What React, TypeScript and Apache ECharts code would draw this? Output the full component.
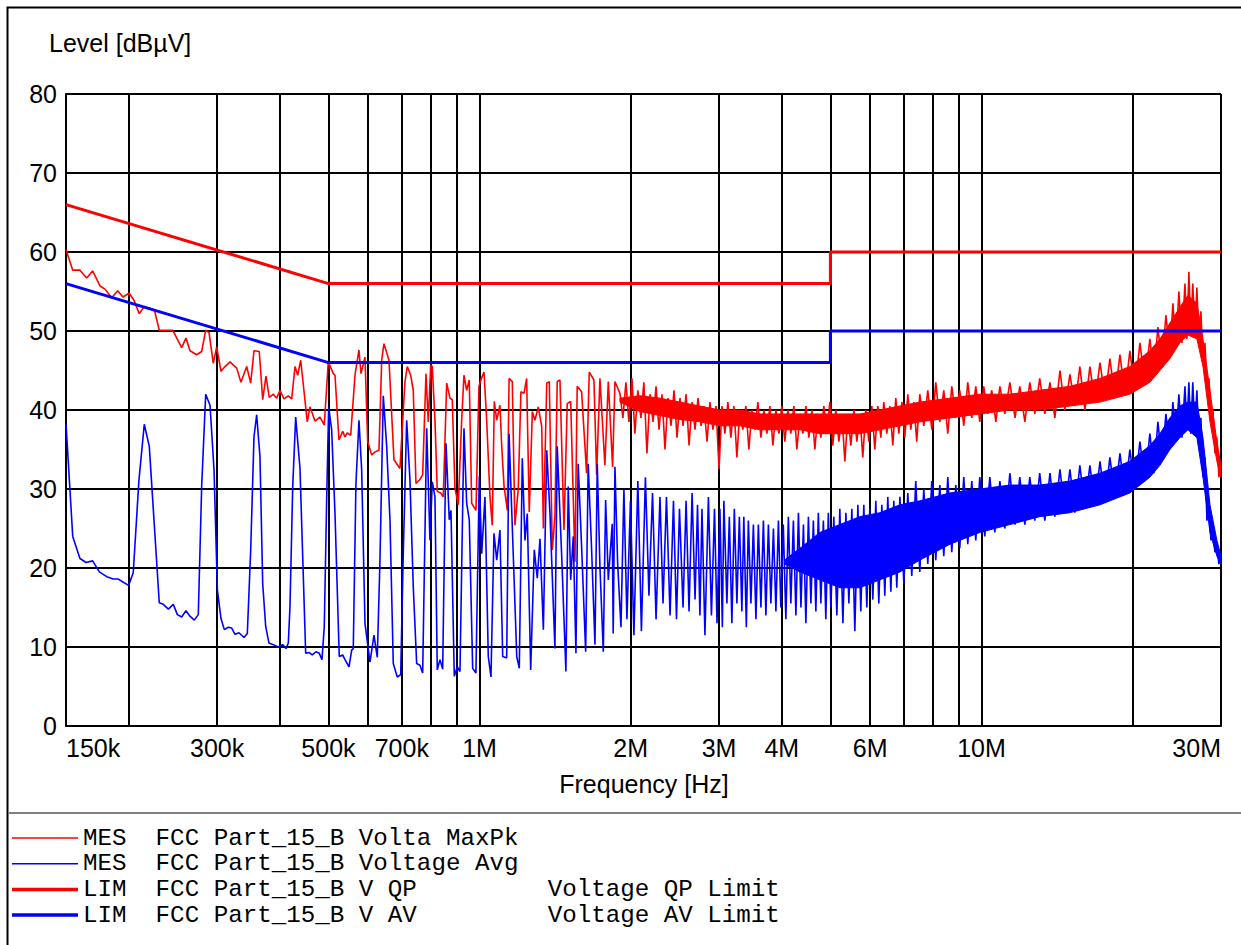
import React, { useEffect, useRef } from 'react';
import * as echarts from 'echarts';

// ---------- axis ticks ----------
const xTickValues = [0.15, 0.3, 0.5, 0.7, 1, 2, 3, 4, 6, 10, 30]; // MHz
const xTickLabels = ['150k', '300k', '500k', '700k', '1M', '2M', '3M', '4M', '6M', '10M', '30M'];
const xGridValues = [0.2, 0.3, 0.4, 0.5, 0.6, 0.7, 0.8, 0.9, 1, 2, 3, 4, 5, 6, 7, 8, 9, 10, 20, 30];

// ---------- limit lines [MHz, dBµV] ----------
const qpLimit: [number, number][] = [[0.15, 66], [0.5, 56], [5, 56], [5, 60], [30, 60]];
const avLimit: [number, number][] = [[0.15, 56], [0.5, 46], [5, 46], [5, 50], [30, 50]];

// ---------- MES MaxPk trace [MHz, dBµV] ----------
const maxPkTrace: [number, number][] = [
  [0.150, 60.3], [0.1547, 57.7], [0.1599, 57.7], [0.1649, 56.7], [0.1695, 57.6], [0.1753, 55.7], [0.1794, 55.3],
  [0.1850, 54.2], [0.1901, 55.1], [0.1948, 54.3], [0.2003, 54.8], [0.2049, 53.9], [0.2099, 52.2], [0.2148, 53.1],
  [0.2249, 52.7], [0.2301, 50.1], [0.2447, 50.1], [0.2550, 47.9], [0.2601, 49.1], [0.2649, 47.5], [0.2732, 47.0],
  [0.2795, 47.4], [0.2847, 50.1], [0.2891, 49.8], [0.2948, 45.9], [0.2994, 48.0], [0.3054, 44.9], [0.3111, 45.5],
  [0.3183, 46.1], [0.3282, 45.3], [0.3347, 43.5], [0.3436, 45.5], [0.3500, 43.4], [0.3553, 47.5], [0.3640, 47.4],
  [0.3698, 41.3], [0.3754, 44.3], [0.3811, 41.6], [0.3882, 42.0], [0.3943, 41.5], [0.4003, 42.5], [0.4077, 41.4],
  [0.4159, 41.8], [0.4224, 41.4], [0.4289, 45.5], [0.4342, 44.4], [0.4402, 46.3], [0.4537, 38.5], [0.4594, 40.4],
  [0.4700, 38.6], [0.4809, 39.1], [0.4905, 38.1], [0.4996, 46.1], [0.5112, 44.6], [0.5152, 44.4], [0.5247, 36.2],
  [0.5337, 37.3], [0.5394, 36.6], [0.5451, 37.1], [0.5537, 36.8], [0.5647, 44.4], [0.5751, 47.6], [0.5805, 44.6],
  [0.5912, 46.7], [0.5986, 36.0], [0.6096, 34.3], [0.6190, 34.7], [0.6304, 34.9], [0.6383, 46.3], [0.6450, 48.4],
  [0.6600, 46.3], [0.6753, 33.7], [0.6941, 32.6], [0.7102, 43.6], [0.7178, 45.5], [0.7291, 44.4], [0.7378, 42.5],
  [0.7470, 30.7], [0.7608, 31.2], [0.7703, 31.8], [0.7821, 44.6], [0.7904, 38.5], [0.7991, 45.7], [0.8050, 45.5],
  [0.8150, 38.7], [0.8237, 29.7], [0.8366, 29.5], [0.8466, 29.0], [0.8600, 43.4], [0.8731, 41.5], [0.8823, 41.3],
  [0.8933, 30.1], [0.9070, 28.0], [0.9212, 38.7], [0.9310, 44.4], [0.9426, 42.5], [0.9539, 43.8], [0.9645, 28.2],
  [0.9837, 27.3], [0.9973, 43.0], [1.0098, 44.1], [1.0205, 44.8], [1.0332, 38.7], [1.049, 29.0], [1.060, 25.4],
  [1.070, 41.1], [1.082, 38.7], [1.098, 40.6], [1.107, 35.4], [1.119, 30.3], [1.136, 27.3], [1.145, 44.0],
  [1.162, 43.6], [1.176, 25.4], [1.194, 29.9], [1.209, 42.3], [1.226, 42.1], [1.241, 44.0], [1.256, 27.1],
  [1.274, 39.8], [1.289, 38.7], [1.309, 40.4], [1.330, 37.9], [1.340, 25.0], [1.361, 43.4], [1.377, 43.6],
  [1.396, 22.3], [1.413, 26.5], [1.428, 43.6], [1.446, 43.8], [1.473, 24.8], [1.495, 40.8], [1.519, 41.1],
  [1.549, 20.8], [1.565, 43.0], [1.597, 42.3], [1.634, 32.0], [1.654, 44.8], [1.690, 43.8], [1.711, 31.8],
  [1.737, 44.0], [1.777, 33.0], [1.805, 43.6], [1.841, 32.8], [1.861, 43.6], [1.904, 42.1],
  [1.930, 39.0], [1.957, 43.5], [1.984, 38.5], [2.012, 44.0], [2.039, 37.0], [2.067, 42.5], [2.096, 39.0],
  [2.125, 43.5], [2.155, 34.5], [2.186, 42.0], [2.216, 38.5], [2.247, 43.0], [2.278, 37.5], [2.309, 42.0],
  [2.341, 35.0], [2.374, 41.5], [2.407, 38.0], [2.440, 42.5], [2.474, 36.5], [2.508, 41.5], [2.543, 38.0],
  [2.579, 42.0], [2.614, 35.5], [2.651, 41.0], [2.687, 37.5], [2.724, 41.5], [2.762, 38.0], [2.800, 40.5],
  [2.839, 36.0], [2.877, 41.0], [2.917, 37.5], [2.958, 40.5], [3.000, 32.5], [3.040, 40.5], [3.081, 37.0],
  [3.124, 41.0], [3.167, 36.5], [3.211, 40.5], [3.256, 34.0], [3.301, 40.0], [3.346, 37.5], [3.392, 40.5],
  [3.440, 35.0], [3.488, 40.0], [3.536, 37.5], [3.585, 41.0], [3.635, 36.5], [3.685, 40.0], [3.736, 37.0],
  [3.788, 40.5], [3.841, 35.5], [3.894, 40.0], [3.948, 37.0], [4.000, 40.5], [4.057, 36.0], [4.113, 40.0],
  [4.170, 37.0], [4.228, 40.5], [4.287, 35.0], [4.349, 39.5], [4.407, 37.0], [4.468, 40.5], [4.530, 36.5],
  [4.593, 40.0], [4.656, 35.0], [4.720, 39.5], [4.786, 36.5], [4.852, 40.5], [4.919, 37.0], [4.987, 41.0],
  [5.056, 35.5], [5.126, 40.0], [5.198, 36.0], [5.270, 39.5], [5.343, 33.5], [5.417, 39.5], [5.492, 35.5],
  [5.568, 40.0], [5.645, 36.0], [5.722, 39.5], [5.801, 34.0], [5.882, 40.0], [5.963, 36.0], [6.046, 40.5],
  [6.130, 35.0], [6.214, 40.5], [6.301, 36.5], [6.388, 41.0], [6.476, 37.0], [6.566, 40.5], [6.657, 35.5],
  [6.749, 41.5], [6.843, 37.0], [6.941, 41.0], [7.033, 36.5], [7.131, 42.0], [7.229, 37.5], [7.329, 41.0],
  [7.430, 36.0], [7.534, 42.0], [7.674, 38.0], [7.816, 42.5], [7.961, 37.5], [8.108, 43.5], [8.258, 38.5],
  [8.411, 42.5], [8.567, 37.0], [8.725, 43.0], [8.887, 39.0], [9.051, 42.5], [9.219, 38.0], [9.390, 43.5],
  [9.564, 39.0], [9.741, 43.0], [9.921, 38.5], [10.10, 43.0], [10.29, 39.5], [10.48, 42.5], [10.68, 38.5],
  [10.88, 43.0], [11.13, 39.5], [11.39, 43.5], [11.66, 39.0], [11.92, 43.0], [12.20, 38.5], [12.48, 43.5],
  [12.77, 39.5], [13.06, 44.0], [13.37, 39.5], [13.69, 43.5], [14.00, 39.0], [14.33, 45.0], [14.66, 40.0],
  [15.00, 44.5], [15.35, 40.5], [15.70, 45.5], [16.07, 40.0], [16.44, 45.5], [16.83, 41.0], [17.22, 46.0],
  [17.62, 41.5], [18.02, 46.5], [18.44, 41.5], [18.87, 47.0], [19.31, 42.0], [19.75, 47.5], [20.21, 42.5],
  [20.68, 48.5], [21.16, 43.5], [21.65, 49.0], [22.05, 44.5], [22.46, 50.5], [22.88, 45.5], [23.30, 52.0],
  [23.73, 47.0], [24.06, 53.5], [24.40, 48.0], [24.73, 55.0], [25.08, 48.5], [25.43, 56.0], [25.66, 49.0],
  [25.89, 57.5], [26.12, 50.0], [26.36, 56.0], [26.61, 49.5], [26.86, 55.5], [27.10, 48.5], [27.36, 52.5],
  [27.62, 46.0], [27.87, 48.5], [28.13, 42.5], [28.39, 44.0], [28.65, 38.5], [28.91, 40.0], [29.18, 34.5],
  [29.44, 36.5], [29.71, 31.5], [30.0, 33.0],
];

// ---------- MES Avg trace [MHz, dBµV] ----------
const avgTrace: [number, number][] = [
  [0.150, 38.3], [0.1547, 24.0], [0.1599, 21.2], [0.1645, 20.7], [0.1695, 20.9], [0.1748, 19.5], [0.1808, 18.9],
  [0.1863, 18.6], [0.1907, 18.6], [0.1951, 18.2], [0.1999, 17.8], [0.2042, 19.4], [0.2096, 31.1], [0.2148, 38.2],
  [0.2198, 35.4], [0.2301, 15.6], [0.2344, 15.4], [0.2399, 14.8], [0.2454, 15.4], [0.2500, 14.1], [0.2550, 13.8],
  [0.2601, 14.6], [0.2649, 13.9], [0.2702, 13.4], [0.2752, 14.1], [0.2795, 30.3], [0.2847, 42.0], [0.2904, 40.6],
  [0.2958, 32.4], [0.3004, 17.2], [0.3054, 13.6], [0.3101, 12.2], [0.3158, 12.5], [0.3208, 12.4], [0.3257, 11.6],
  [0.3317, 11.8], [0.3394, 11.2], [0.3446, 11.7], [0.3500, 22.3], [0.3553, 36.6], [0.3597, 39.4], [0.3652, 34.1],
  [0.3698, 18.0], [0.3749, 12.6], [0.3806, 10.5], [0.3882, 10.3], [0.3972, 10.0], [0.4053, 10.3], [0.4115, 9.8],
  [0.4159, 10.5], [0.4191, 15.1], [0.4244, 30.3], [0.4302, 39.1], [0.4388, 32.6], [0.4443, 21.4], [0.4504, 9.2],
  [0.4579, 9.3], [0.4642, 9.0], [0.4722, 9.4], [0.4794, 9.2], [0.4854, 8.4], [0.4905, 12.6], [0.4959, 28.6],
  [0.5005, 40.4], [0.5074, 37.5], [0.5152, 26.9], [0.5254, 8.8], [0.5337, 9.0], [0.5394, 8.4], [0.5494, 7.5],
  [0.5562, 9.6], [0.5603, 9.8], [0.5672, 30.7], [0.5751, 38.7], [0.5823, 32.4], [0.5912, 13.0], [0.6049, 8.1],
  [0.6161, 11.5], [0.6255, 8.7], [0.6333, 21.0], [0.6430, 41.8], [0.6531, 35.4], [0.6630, 26.1], [0.6731, 7.9],
  [0.6856, 6.2], [0.6964, 6.5], [0.7047, 21.8], [0.7158, 38.7], [0.7267, 31.1], [0.7378, 17.6], [0.7494, 7.9],
  [0.7608, 7.7], [0.7703, 6.7], [0.7846, 37.7], [0.7965, 23.5], [0.8050, 30.9], [0.8150, 29.0], [0.8237, 7.1],
  [0.8339, 8.4], [0.8443, 7.2], [0.8572, 35.8], [0.8703, 26.1], [0.8771, 27.3], [0.8905, 6.3], [0.9028, 7.5],
  [0.9141, 6.9], [0.9310, 37.7], [0.9426, 28.2], [0.9539, 26.1], [0.9689, 7.3], [0.9835, 6.7], [0.9987, 31.6],
  [1.0098, 21.8], [1.0251, 29.0], [1.0408, 8.8], [1.0538, 6.2], [1.0684, 24.4], [1.082, 21.0], [1.098, 24.8],
  [1.112, 8.8], [1.1325, 8.6], [1.145, 37.0], [1.167, 21.8], [1.186, 8.8], [1.200, 7.3], [1.2165, 33.9],
  [1.2316, 23.5], [1.2447, 26.9], [1.2643, 7.1], [1.2853, 22.3], [1.3032, 18.7], [1.3194, 23.7], [1.340, 12.2],
  [1.361, 34.9], [1.3813, 26.9], [1.413, 9.8], [1.428, 35.4], [1.457, 21.8], [1.486, 6.9], [1.502, 30.3],
  [1.519, 18.5], [1.537, 24.0], [1.556, 9.2], [1.572, 33.2], [1.597, 22.7], [1.627, 9.4], [1.646, 33.2],
  [1.672, 22.3], [1.698, 10.3], [1.716, 33.2], [1.737, 20.2], [1.764, 9.4], [1.783, 28.6], [1.805, 18.5],
  [1.838, 25.6], [1.846, 11.7], [1.861, 32.8], [1.884, 20.6],
  [1.913, 12.5], [1.939, 30.0], [1.966, 13.5], [1.998, 28.5], [2.030, 11.5], [2.067, 31.0], [2.101, 12.0],
  [2.140, 31.5], [2.175, 16.5], [2.211, 29.5], [2.247, 13.5], [2.288, 29.0], [2.320, 15.5], [2.357, 29.0],
  [2.396, 14.0], [2.434, 28.5], [2.468, 13.5], [2.502, 27.5], [2.543, 15.0], [2.579, 28.5], [2.614, 14.5],
  [2.651, 29.5], [2.687, 16.0], [2.718, 28.0], [2.748, 14.0], [2.774, 27.5], [2.812, 11.5], [2.857, 29.0],
  [2.897, 14.0], [2.938, 27.5], [2.972, 13.0], [3.012, 27.5], [3.046, 12.5], [3.067, 28.5], [3.110, 15.5],
  [3.145, 26.5], [3.182, 13.0], [3.218, 27.5], [3.256, 15.5], [3.293, 26.5], [3.331, 14.5], [3.361, 26.5],
  [3.400, 12.5], [3.432, 26.0], [3.472, 15.5], [3.512, 25.5], [3.553, 13.5], [3.593, 25.5], [3.635, 15.0],
  [3.677, 26.0], [3.719, 14.0], [3.762, 25.5], [3.805, 15.5], [3.850, 25.0], [3.894, 14.5], [3.939, 26.0],
  [3.983, 15.0], [4.028, 25.5], [4.076, 13.5], [4.123, 26.5], [4.170, 15.5], [4.219, 26.0], [4.268, 14.0],
  [4.318, 27.0], [4.368, 15.0], [4.418, 25.5], [4.468, 13.0], [4.520, 26.5], [4.572, 15.5], [4.624, 26.0],
  [4.677, 14.5], [4.731, 27.0], [4.786, 15.5], [4.841, 26.0], [4.896, 13.5], [4.953, 27.0], [5.010, 15.0],
  [5.079, 26.5], [5.150, 14.0], [5.221, 27.5], [5.295, 13.0], [5.368, 27.0], [5.442, 15.5], [5.517, 27.5],
  [5.593, 12.0], [5.671, 28.0], [5.748, 14.5], [5.828, 28.0], [5.909, 15.0], [5.990, 27.5], [6.074, 16.0],
  [6.158, 28.5], [6.243, 15.5], [6.330, 28.0], [6.417, 16.5], [6.506, 29.0], [6.597, 17.0], [6.688, 28.5],
  [6.780, 17.5], [6.878, 29.0], [7.003, 18.0], [7.131, 29.5], [7.262, 19.0], [7.396, 31.0], [7.534, 19.5],
  [7.674, 30.0], [7.816, 20.5], [7.961, 31.0], [8.108, 21.0], [8.258, 30.5], [8.411, 21.5], [8.567, 31.5],
  [8.725, 22.0], [8.887, 30.5], [9.051, 22.5], [9.219, 31.5], [9.390, 23.0], [9.564, 31.0], [9.741, 23.5],
  [9.921, 31.5], [10.15, 24.0], [10.39, 31.5], [10.63, 24.5], [10.88, 31.0], [11.13, 25.0], [11.39, 32.0],
  [11.66, 25.5], [11.92, 31.5], [12.20, 25.5], [12.48, 31.5], [12.77, 26.0], [13.06, 32.0], [13.37, 26.0],
  [13.69, 32.0], [14.00, 26.5], [14.33, 32.5], [14.66, 27.0], [15.00, 32.5], [15.35, 27.0], [15.70, 33.0],
  [16.07, 27.5], [16.44, 33.0], [16.83, 28.0], [17.22, 33.5], [17.62, 28.5], [18.02, 34.0], [18.44, 29.0],
  [18.87, 34.5], [19.31, 29.5], [19.75, 35.0], [20.21, 30.0], [20.68, 36.0], [21.16, 31.0], [21.65, 37.0],
  [22.05, 32.0], [22.46, 38.5], [22.88, 33.5], [23.30, 39.5], [23.73, 35.0], [24.06, 41.0], [24.40, 36.0],
  [24.73, 42.0], [25.08, 36.5], [25.43, 43.0], [25.66, 37.5], [25.89, 43.5], [26.12, 37.0], [26.36, 43.5],
  [26.61, 37.0], [26.86, 42.5], [27.10, 35.5], [27.36, 39.0], [27.62, 31.5], [27.87, 34.0], [28.13, 26.0],
  [28.39, 27.5], [28.65, 23.5], [28.91, 24.5], [29.18, 22.0], [29.44, 23.0], [29.71, 20.5], [30.0, 21.5],
];

// ---------- dense-region envelopes (upper / lower edge of the sweep) ----------
const maxPkBandFreq = [1.904, 2.087, 2.288, 2.508, 2.748, 3.012, 3.301, 3.618, 3.965, 4.349, 4.764, 5.221, 5.722,
  6.272, 6.878, 7.534, 8.65, 9.921, 11.39, 13.06, 15.0, 17.22, 19.75, 21.65, 22.67, 23.73, 24.84, 25.77, 26.86,
  27.62, 28.52, 29.44, 30];
const maxPkBandHi = [41.5, 41.8, 41.5, 41, 40.5, 40, 40, 39.5, 39.5, 39.5, 39.5, 39.5, 39.5, 40, 40.5, 41, 41.5, 42,
  42, 42.5, 43, 44, 45.5, 47.5, 49, 51, 53, 54.5, 53.5, 49, 42.5, 36, 33];
const maxPkBandLo = [41, 39.8, 39.3, 38.8, 38.5, 38, 38, 37.5, 37.5, 37.5, 37, 37, 37, 37.5, 38, 38.5, 39, 39.5, 40,
  40, 40.5, 41, 42, 43.5, 45, 46.5, 48.5, 49.5, 49, 45.5, 38.5, 33.5, 31.5];

const avgBandFreq = [4.05, 4.349, 4.764, 5.221, 5.722, 6.272, 6.878, 7.534, 8.65, 9.921, 11.39, 13.06,
  15.0, 17.22, 19.75, 21.65, 22.67, 23.73, 24.84, 25.77, 26.86, 27.62, 28.52, 29.44, 30];
const avgBandHi = [21, 22.5, 24.5, 25.5, 26.5, 27, 28, 28.5, 29.5, 30, 30.5, 30.5, 31, 32, 33.5, 35.5, 37, 39,
  40.5, 41, 41, 36.5, 28, 23.5, 21.5];
const avgBandLo = [20.5, 19.5, 18.5, 17.5, 17.5, 18.5, 19.5, 21, 23, 24.5, 25.5, 26.5, 27, 28, 29.5, 31.5, 33, 35,
  36.5, 37.5, 36.5, 31.5, 24.5, 21.5, 20.5];

// ---------- legend ----------
const legendRows = [
  { color: '#ff0000', width: 1.5, a: 'MES', b: 'FCC Part_15_B Volta MaxPk', c: '' },
  { color: '#0000ff', width: 1.5, a: 'MES', b: 'FCC Part_15_B Voltage Avg', c: '' },
  { color: '#ff0000', width: 3.5, a: 'LIM', b: 'FCC Part_15_B V QP', c: 'Voltage QP Limit' },
  { color: '#0000ff', width: 3.5, a: 'LIM', b: 'FCC Part_15_B V AV', c: 'Voltage AV Limit' },
];

const RED = '#ff0000';
const BLUE = '#0000ff';
const SANS = 'Liberation Sans, Arial, sans-serif';
const MONO = 'Liberation Mono, Courier New, monospace';

function bandSeries(freq: number[], hi: number[], lo: number[], color: string) {
  return {
    type: 'custom',
    coordinateSystem: 'cartesian2d',
    silent: true,
    data: freq.map((f, i) => [f, lo[i], hi[i]]),
    encode: { x: 0, y: [1, 2] },
    renderItem: (params: any, api: any) => {
      if (params.dataIndex !== 0) return null;
      const top = freq.map((f, i) => api.coord([f, hi[i]]));
      const bottom = freq.map((f, i) => api.coord([f, lo[i]])).reverse();
      return {
        type: 'polygon',
        shape: { points: top.concat(bottom) },
        style: { fill: color, stroke: color, lineWidth: 1 },
      };
    },
  };
}

function buildGraphic() {
  const g: any[] = [
    { type: 'rect', shape: { x: 7.5, y: 7.5, width: 1260, height: 960 }, style: { fill: 'none', stroke: '#000', lineWidth: 2 } },
    { type: 'line', shape: { x1: 8, y1: 813, x2: 1241, y2: 813 }, style: { stroke: '#808080', lineWidth: 2 } },
    { type: 'text', x: 49, y: 43, style: { text: 'Level [dBµV]', fontSize: 25, fontFamily: SANS, fill: '#000', align: 'left', verticalAlign: 'middle' } },
    { type: 'text', x: 644, y: 784, style: { text: 'Frequency [Hz]', fontSize: 25, fontFamily: SANS, fill: '#000', align: 'center', verticalAlign: 'middle' } },
  ];
  const charW = 14.52;
  legendRows.forEach((r, i) => {
    const y = 838 + i * 25.7;
    g.push({ type: 'line', shape: { x1: 12, y1: y, x2: 78, y2: y }, style: { stroke: r.color, lineWidth: r.width } });
    g.push({ type: 'text', x: 83, y, style: { text: r.a, fontSize: 24.2, fontFamily: MONO, fill: '#000', align: 'left', verticalAlign: 'middle' } });
    g.push({ type: 'text', x: 83 + 5 * charW, y, style: { text: r.b, fontSize: 24.2, fontFamily: MONO, fill: '#000', align: 'left', verticalAlign: 'middle' } });
    if (r.c) {
      g.push({ type: 'text', x: 83 + 32 * charW, y, style: { text: r.c, fontSize: 24.2, fontFamily: MONO, fill: '#000', align: 'left', verticalAlign: 'middle' } });
    }
  });
  return g;
}

export default function App() {
  const ref = useRef<HTMLDivElement>(null);
  useEffect(() => {
    if (!ref.current) return;
    const chart = echarts.init(ref.current, null, { renderer: 'svg' });
    const option: any = {
      animation: false,
      backgroundColor: '#ffffff',
      grid: { left: 66, top: 94, width: 1155, height: 632, show: false },
      xAxis: {
        type: 'log',
        logBase: 10,
        min: 0.15,
        max: 30,
        axisLine: { show: true, onZero: false, lineStyle: { color: '#000', width: 2 } },
        axisTick: { show: false, customValues: xGridValues },
        axisLabel: {
          customValues: xTickValues,
          color: '#000',
          fontSize: 25,
          fontFamily: SANS,
          margin: 9,
          alignMinLabel: 'left',
          alignMaxLabel: 'right',
          formatter: (v: number) => {
            const i = xTickValues.findIndex((t) => Math.abs(t - v) < 1e-6 * Math.max(1, v));
            return i >= 0 ? xTickLabels[i] : '';
          },
        },
        splitLine: { show: true, lineStyle: { color: '#000', width: 2 } },
      },
      yAxis: {
        type: 'value',
        min: 0,
        max: 80,
        interval: 10,
        axisLine: { show: true, lineStyle: { color: '#000', width: 2 } },
        axisTick: { show: false },
        axisLabel: { color: '#000', fontSize: 25, fontFamily: SANS, margin: 9 },
        splitLine: { show: true, lineStyle: { color: '#000', width: 2 } },
      },
      graphic: buildGraphic(),
      series: [
        bandSeries(maxPkBandFreq, maxPkBandHi, maxPkBandLo, RED),
        { name: 'MES MaxPk', type: 'line', data: maxPkTrace, showSymbol: false, symbol: 'none', lineStyle: { color: RED, width: 1.6 }, itemStyle: { color: RED } },
        bandSeries(avgBandFreq, avgBandHi, avgBandLo, BLUE),
        { name: 'MES Avg', type: 'line', data: avgTrace, showSymbol: false, symbol: 'none', lineStyle: { color: BLUE, width: 1.6 }, itemStyle: { color: BLUE } },
        { name: 'LIM QP', type: 'line', data: qpLimit, showSymbol: false, symbol: 'none', lineStyle: { color: RED, width: 3 }, itemStyle: { color: RED } },
        { name: 'LIM AV', type: 'line', data: avLimit, showSymbol: false, symbol: 'none', lineStyle: { color: BLUE, width: 3 }, itemStyle: { color: BLUE } },
      ],
    };
    chart.setOption(option);
    return () => chart.dispose();
  }, []);
  return (
    <div
      ref={ref}
      style={{ position: 'absolute', left: 0, top: 0, width: 1241, height: 945, background: '#fff' }}
    />
  );
}
